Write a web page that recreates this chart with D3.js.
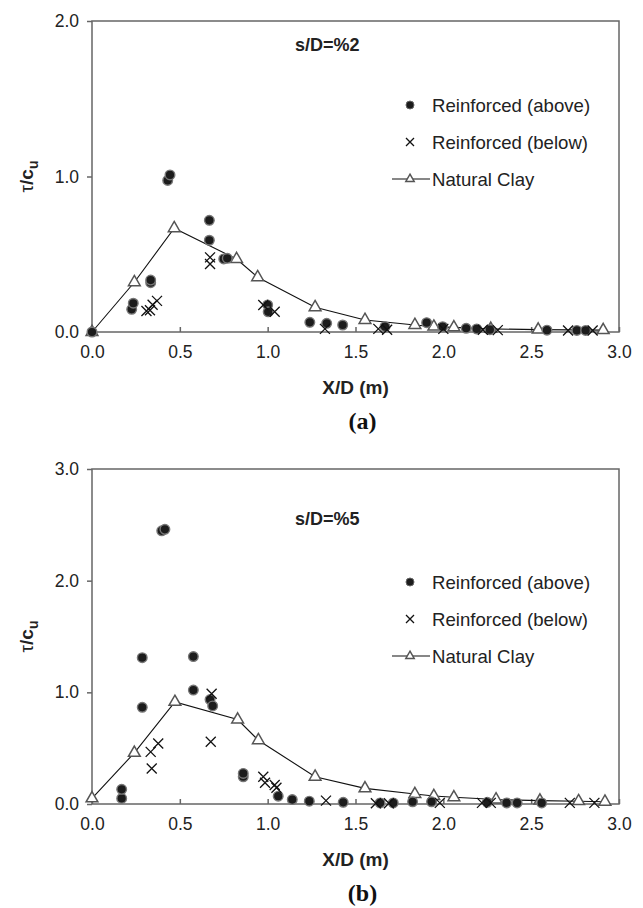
<!DOCTYPE html>
<html>
<head>
<meta charset="utf-8">
<script src="https://cdn.jsdelivr.net/npm/d3@7"></script>
<style>
  body { margin: 0; background: #fff; }
  svg { display: block; font-family: "Liberation Sans", Arial, sans-serif; }
</style>
</head>
<body>
<svg id="chart" width="643" height="908"></svg>
<script>
// shared ticks
const xTicks = [0, 0.5, 1.0, 1.5, 2.0, 2.5, 3.0];
const yTicksA = [0, 1, 2];
const yTicksB = [0, 1, 2, 3];

// panel (a) s/D = %2, values as [X/D, tau/cu]
const aboveA = [[0, 0], [0.226, 0.146], [0.235, 0.185], [0.334, 0.317], [0.334, 0.334],
  [0.431, 0.975], [0.444, 1.01], [0.668, 0.59], [0.668, 0.718], [0.75, 0.47], [0.77, 0.474],
  [1.0, 0.174], [1.003, 0.13], [1.24, 0.062], [1.336, 0.056], [1.427, 0.045], [1.668, 0.034],
  [1.905, 0.06], [1.996, 0.034], [2.13, 0.024], [2.19, 0.02], [2.265, 0.015], [2.59, 0.012],
  [2.76, 0.01], [2.81, 0.01]];
const belowA = [[0.31, 0.135], [0.33, 0.14], [0.345, 0.175], [0.37, 0.2], [0.672, 0.437],
  [0.672, 0.48], [0.975, 0.174], [1.04, 0.13], [1.326, 0.02], [1.63, 0.02], [1.68, 0.015],
  [2.0, 0.02], [2.225, 0.015], [2.31, 0.012], [2.71, 0.01], [2.85, 0.01]];
const clayA = [[0, 0], [0.241, 0.32], [0.468, 0.667], [0.823, 0.469], [0.943, 0.352],
  [1.27, 0.159], [1.554, 0.077], [1.838, 0.045], [1.946, 0.034], [2.06, 0.03], [2.27, 0.02],
  [2.54, 0.015], [2.91, 0.012]];

// panel (b) s/D = %5
const aboveB = [[0.169, 0.05], [0.169, 0.131], [0.286, 0.866], [0.286, 1.31], [0.397, 2.446],
  [0.415, 2.46], [0.577, 1.02], [0.577, 1.32], [0.672, 0.935], [0.687, 0.878], [0.861, 0.244],
  [0.861, 0.274], [1.06, 0.07], [1.14, 0.04], [1.237, 0.025], [1.43, 0.015], [1.64, 0.01],
  [1.715, 0.01], [1.825, 0.02], [1.933, 0.02], [2.25, 0.015], [2.36, 0.01], [2.42, 0.01],
  [2.56, 0.01]];
const belowB = [[0.334, 0.467], [0.34, 0.318], [0.377, 0.542], [0.676, 0.557], [0.681, 0.988],
  [0.975, 0.244], [0.985, 0.19], [1.04, 0.17], [1.05, 0.146], [1.332, 0.03], [1.616, 0.006],
  [1.69, 0.006], [1.98, 0.01], [2.22, 0.01], [2.27, 0.01], [2.72, 0.01], [2.86, 0.01]];
const clayB = [[0, 0.05], [0.241, 0.458], [0.472, 0.914], [0.829, 0.756], [0.947, 0.571],
  [1.27, 0.244], [1.554, 0.14], [1.838, 0.089], [1.946, 0.071], [2.06, 0.06], [2.3, 0.04],
  [2.55, 0.03], [2.77, 0.025], [2.92, 0.02]];

const legendNames = ["Reinforced (above)", "Reinforced (below)", "Natural Clay"];

const svg = d3.select("#chart");
const left = 92, right = 619;

const panels = [
  { top: 21, bottom: 332, yMax: 2, yTicks: yTicksA, above: aboveA, below: belowA, clay: clayA,
    tag: "s/D=%2", tagY: 51, legendY: 105, caption: "(a)" },
  { top: 469, bottom: 804, yMax: 3, yTicks: yTicksB, above: aboveB, below: belowB, clay: clayB,
    tag: "s/D=%5", tagY: 525, legendY: 582, caption: "(b)" }
];

panels.forEach(drawPanel);

function drawDot(g, x, y, r) {
  g.append("circle").attr("cx", x).attr("cy", y).attr("r", r)
    .attr("fill", "#1c1c1c").attr("stroke", "#777").attr("stroke-width", 1.4);
}
function drawCross(g, x, y, s) {
  g.append("path").attr("d", `M${x - s},${y - s}L${x + s},${y + s}M${x - s},${y + s}L${x + s},${y - s}`)
    .attr("stroke", "#111").attr("stroke-width", 1.3).attr("fill", "none");
}
function drawTri(g, x, y, size) {
  g.append("path").attr("d", d3.symbol(d3.symbolTriangle, size)())
    .attr("transform", `translate(${x},${y})`)
    .attr("fill", "#fff").attr("stroke", "#555").attr("stroke-width", 1.5);
}

function drawPanel(p) {
  const x = d3.scaleLinear().domain([0, 3]).range([left, right]);
  const y = d3.scaleLinear().domain([0, p.yMax]).range([p.bottom, p.top]);
  const g = svg.append("g");

  // frame
  g.append("rect").attr("x", left).attr("y", p.top)
    .attr("width", right - left).attr("height", p.bottom - p.top)
    .attr("fill", "none").attr("stroke", "#666").attr("stroke-width", 1.5);

  // y axis
  const yAxis = g.append("g").attr("transform", `translate(${left},0)`)
    .call(d3.axisLeft(y).tickValues(p.yTicks).tickFormat(d3.format(".1f")).tickSize(5).tickPadding(8));
  yAxis.select(".domain").remove();
  yAxis.selectAll("line").attr("stroke", "#666").attr("stroke-width", 1.5);
  yAxis.selectAll("text").attr("font-size", 17.5).attr("fill", "#222")
    .attr("font-family", "Liberation Sans, Arial, sans-serif");

  // x axis, ticks pointing inward
  const xAxis = g.append("g").attr("transform", `translate(0,${p.bottom})`)
    .call(d3.axisBottom(x).tickValues(xTicks).tickFormat(d3.format(".1f")).tickSize(-5).tickPadding(14));
  xAxis.select(".domain").remove();
  xAxis.selectAll("line").attr("stroke", "#666").attr("stroke-width", 1.5);
  xAxis.selectAll("text").attr("font-size", 17.5).attr("fill", "#222")
    .attr("font-family", "Liberation Sans, Arial, sans-serif");

  // axis titles
  g.append("text").attr("x", (left + right) / 2).attr("y", p.bottom + 62)
    .attr("text-anchor", "middle").attr("font-size", 19).attr("font-weight", "bold")
    .attr("fill", "#222").text("X/D (m)");

  const yl = g.append("text")
    .attr("transform", `translate(33,${(p.top + p.bottom) / 2}) rotate(-90)`)
    .attr("text-anchor", "middle").attr("font-size", 19).attr("fill", "#222");
  yl.append("tspan").text("τ");
  yl.append("tspan").attr("font-weight", "bold").text("/c");
  yl.append("tspan").attr("font-weight", "bold").attr("font-size", 14).attr("dy", 5).text("u");

  g.append("text").attr("x", (left + right) / 2 + 7).attr("y", p.bottom + 97)
    .attr("text-anchor", "middle").attr("font-size", 24).attr("font-weight", "bold")
    .attr("font-family", "Liberation Serif, Times New Roman, serif").attr("fill", "#111")
    .text(p.caption);

  g.append("text").attr("x", 295).attr("y", p.tagY).attr("font-size", 18)
    .attr("font-weight", "bold").attr("fill", "#222").text(p.tag);

  // natural clay line + markers
  g.append("path").datum(p.clay)
    .attr("d", d3.line().x(d => x(d[0])).y(d => y(d[1])))
    .attr("fill", "none").attr("stroke", "#111").attr("stroke-width", 1.1);
  p.clay.forEach(d => drawTri(g, x(d[0]), y(d[1]), 60));
  p.above.forEach(d => drawDot(g, x(d[0]), y(d[1]), 4.8));
  p.below.forEach(d => drawCross(g, x(d[0]), y(d[1]), 5));

  // legend
  const lg = g.append("g");
  legendNames.forEach((name, i) => {
    const ly = p.legendY + i * 37;
    if (i === 0) {
      lg.append("circle").attr("cx", 410).attr("cy", ly).attr("r", 4)
        .attr("fill", "#1c1c1c").attr("stroke", "#666").attr("stroke-width", 1);
    } else if (i === 1) {
      drawCross(lg, 410, ly, 4);
    } else {
      lg.append("line").attr("x1", 392).attr("x2", 430).attr("y1", ly).attr("y2", ly)
        .attr("stroke", "#111").attr("stroke-width", 1.1);
      drawTri(lg, 410, ly, 30);
    }
    lg.append("text").attr("x", 432).attr("y", ly).attr("dy", "0.35em")
      .attr("font-size", 18.6).attr("fill", "#222").text(name);
  });
}
</script>
</body>
</html>
